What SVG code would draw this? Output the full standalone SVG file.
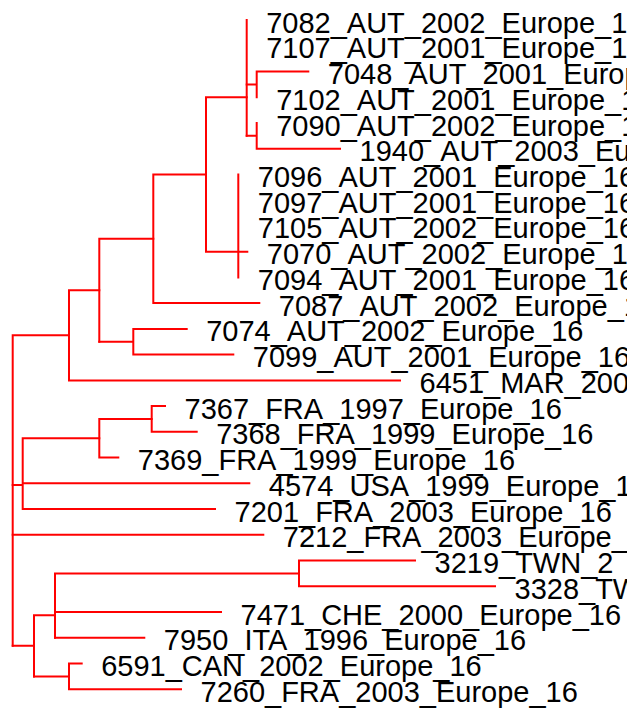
<svg xmlns="http://www.w3.org/2000/svg" width="627" height="709" viewBox="0 0 627 709">
<style>
.e{fill:none;stroke:#ff0000;stroke-width:2;stroke-linecap:square;stroke-linejoin:miter}
text{font-family:"Liberation Sans",Arial,sans-serif;font-size:29px;fill:#000}
</style>
<rect width="627" height="709" fill="#fff"/>
<g id="connectors">
<path class="e" d="M246.7 20V135.8"/>
<path class="e" d="M246.7 84.4H256.7M256.7 71.5V97.2M256.7 71.5H308.3"/>
<path class="e" d="M246.7 135.8H256.7M256.7 123V148.7M256.7 148.7H340"/>
<path class="e" d="M206 97.2H246.7M206 97.2V251.7M206 251.7H247.3M238.3 174.4V277.4"/>
<path class="e" d="M153.3 174.4H206M153.3 174.4V303.1M153.3 303.1H259.3"/>
<path class="e" d="M99.3 238.8H153.3M99.3 238.8V341.8"/>
<path class="e" d="M99.3 341.8H133.3M133.3 328.9V354.6M133.3 328.9H186.7M133.3 354.6H233.3"/>
<path class="e" d="M69 290.3H99.3M69 290.3V380.4M69 380.4H400"/>
<path class="e" d="M12.7 335.3H69M12.7 335.3V645.8"/>
<path class="e" d="M151.7 406.1V431.8M151.7 406.1H165M151.7 431.8H196.7"/>
<path class="e" d="M99.3 419H151.7M99.3 419V457.6M99.3 457.6H118.3"/>
<path class="e" d="M22.7 438.3H99.3M22.7 438.3V509.1M22.7 483.3H249.3M22.7 509.1H215M12.7 484.9H22.7"/>
<path class="e" d="M12.7 534.8H263.3"/>
<path class="e" d="M12.7 645.8H34M34 615.2V676.4M34 615.2H55"/>
<path class="e" d="M55 573.4V637.8M55 573.4H299M299 560.5V586.3M299 560.5H415M299 586.3H495"/>
<path class="e" d="M55 612H221M55 637.8H144.3"/>
<path class="e" d="M34 676.4H69M69 663.5V689.2M69 663.5H81.7M69 689.2H181"/>
</g>
<g id="t7082"><text x="266.2" y="32.5">7082_AUT_2002_Europe_16</text></g>
<g id="t7107"><text x="266.2" y="58.2">7107_AUT_2001_Europe_16</text></g>
<g id="t7048"><text x="327.8" y="84">7048_AUT_2001_Europe_16</text></g>
<g id="t7102"><text x="276.2" y="109.7">7102_AUT_2001_Europe_16</text></g>
<g id="t7090"><text x="276.2" y="135.5">7090_AUT_2002_Europe_16</text></g>
<g id="t1940"><text x="359.5" y="161.2">1940_AUT_2003_Europe_16</text></g>
<g id="t7096"><text x="257.8" y="186.9">7096_AUT_2001_Europe_16</text></g>
<g id="t7097"><text x="257.8" y="212.7">7097_AUT_2001_Europe_16</text></g>
<g id="t7105"><text x="257.8" y="238.4">7105_AUT_2002_Europe_16</text></g>
<g id="t7070"><text x="266.8" y="264.2">7070_AUT_2002_Europe_16</text></g>
<g id="t7094"><text x="257.8" y="289.9">7094_AUT_2001_Europe_16</text></g>
<g id="t7087"><text x="278.8" y="315.6">7087_AUT_2002_Europe_16</text></g>
<g id="t7074"><text x="206.2" y="341.4">7074_AUT_2002_Europe_16</text></g>
<g id="t7099"><text x="252.8" y="367.1">7099_AUT_2001_Europe_16</text></g>
<g id="t6451"><text x="419.5" y="392.9">6451_MAR_200</text></g>
<g id="t7367"><text x="184.5" y="418.6">7367_FRA_1997_Europe_16</text></g>
<g id="t7368"><text x="216.2" y="444.3">7368_FRA_1999_Europe_16</text></g>
<g id="t7369"><text x="137.8" y="470.1">7369_FRA_1999_Europe_16</text></g>
<g id="t4574"><text x="268.8" y="495.8">4574_USA_1999_Europe_16</text></g>
<g id="t7201"><text x="234.5" y="521.6">7201_FRA_2003_Europe_16</text></g>
<g id="t7212"><text x="282.8" y="547.3">7212_FRA_2003_Europe_16</text></g>
<g id="t3219"><text x="434.5" y="573">3219_TWN_2</text></g>
<g id="t3328"><text x="514.5" y="598.8">3328_TW</text></g>
<g id="t7471"><text x="240.5" y="624.5">7471_CHE_2000_Europe_16</text></g>
<g id="t7950"><text x="163.8" y="650.3">7950_ITA_1996_Europe_16</text></g>
<g id="t6591"><text x="101.2" y="676">6591_CAN_2002_Europe_16</text></g>
<g id="t7260"><text x="200.5" y="701.7">7260_FRA_2003_Europe_16</text></g>
</svg>
